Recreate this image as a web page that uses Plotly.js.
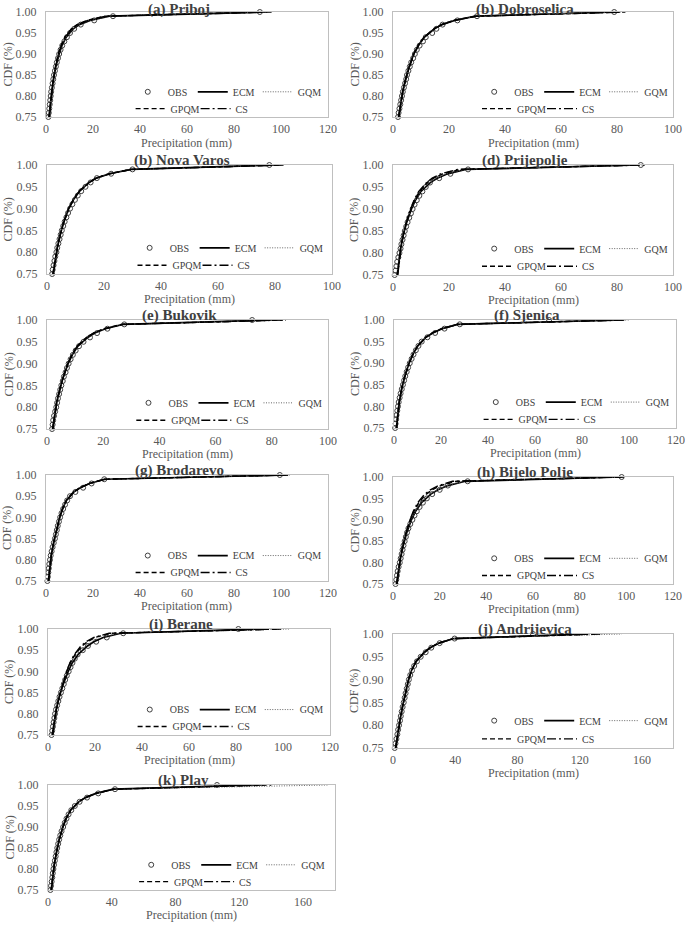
<!DOCTYPE html>
<html>
<head>
<meta charset="utf-8">
<script src="https://cdn.plot.ly/plotly-3.0.1.min.js"></script>
<style>
  html, body { margin: 0; padding: 0; background: #fff; }
  #chart { width: 685px; height: 927px; }
</style>
</head>
<body>
<div id="chart"></div>
<script>
// ============================================================
// CDF of daily precipitation: OBS vs bias-corrected models
// ============================================================

// CDF levels of the observed points and of the model curves
const cdfObs = [0.75, 0.76, 0.77, 0.78, 0.79, 0.80, 0.81, 0.82, 0.83, 0.84, 0.85, 0.86, 0.87,
  0.88, 0.89, 0.90, 0.91, 0.92, 0.93, 0.94, 0.95, 0.96, 0.97, 0.98, 0.99, 1.00];
const cdfModel = [0.75, 0.78, 0.81, 0.84, 0.87, 0.90, 0.92, 0.94, 0.96, 0.97, 0.98, 0.99, 1.00];

const seriesNames = ["OBS", "ECM", "GQM", "GPQM", "CS"];

// precipitation (mm) per station
const pribObs = [1.0, 1.2, 1.4, 1.6, 1.8, 2.0, 2.2, 2.5, 2.8, 3.1, 3.4, 3.8, 4.2, 4.6, 5.1, 5.6, 6.2, 6.9, 7.8, 8.9, 10.2, 12.0, 14.8, 20.5, 28.5, 91];
const pribEcm = [1.3, 1.8, 2.4, 3.2, 4.2, 5.6, 6.8, 8.6, 11.6, 14.2, 18.8, 27.0, 94];
const pribGqm = [1.2, 1.7, 2.3, 3.1, 4.1, 5.4, 6.7, 8.5, 11.5, 14.0, 18.5, 26.5, 95];
const pribGpqm = [1.3, 1.8, 2.4, 3.1, 4.0, 5.2, 6.4, 8.0, 10.8, 13.2, 17.5, 25.0, 93];
const pribCs = [1.4, 1.9, 2.5, 3.2, 4.1, 5.3, 6.5, 8.2, 11.0, 13.5, 17.8, 25.5, 96];

const dobrObs = [1.8, 2.0, 2.3, 2.6, 2.9, 3.2, 3.5, 3.9, 4.3, 4.7, 5.0, 5.5, 6.0, 6.5, 7.2, 7.8, 8.5, 9.5, 10.7, 11.7, 14.0, 15.5, 17.7, 23, 30, 79];
const dobrEcm = [2.0, 2.7, 3.4, 4.5, 5.8, 7.4, 9.0, 11.2, 14.8, 17.5, 22, 29.5, 80];
const dobrGqm = [1.9, 2.6, 3.4, 4.4, 5.7, 7.3, 8.9, 11.0, 14.6, 17.2, 21.5, 29, 81];
const dobrGpqm = [2.0, 2.7, 3.5, 4.5, 5.8, 7.4, 9.0, 11.1, 14.7, 17.3, 21.8, 29.5, 83];
const dobrCs = [2.1, 2.8, 3.5, 4.6, 5.9, 7.5, 9.1, 11.2, 14.8, 17.4, 22, 29.8, 82];

const novaObs = [1.8, 2.0, 2.3, 2.6, 2.9, 3.3, 3.6, 4.0, 4.4, 4.8, 5.2, 5.7, 6.2, 6.8, 7.4, 8.1, 8.9, 9.8, 10.8, 12.0, 13.5, 15.3, 17.5, 22.5, 30, 78];
const novaEcm = [2.1, 2.8, 3.6, 4.6, 5.9, 7.6, 9.2, 11.4, 14.8, 17.3, 22, 29.5, 80];
const novaGqm = [2.0, 2.7, 3.5, 4.5, 5.8, 7.5, 9.1, 11.2, 14.6, 17.0, 21.5, 29, 82];
const novaGpqm = [2.1, 2.8, 3.6, 4.6, 5.9, 7.6, 9.2, 11.3, 14.7, 17.2, 21.8, 29.5, 82];
const novaCs = [2.2, 2.9, 3.7, 4.7, 6.0, 7.7, 9.3, 11.4, 14.8, 17.3, 22, 29.8, 83];

const prijObs = [0.6, 0.9, 1.2, 1.5, 1.9, 2.3, 2.7, 3.0, 3.4, 3.8, 4.2, 4.7, 5.2, 5.8, 6.4, 7.0, 7.7, 8.5, 9.4, 10.5, 11.7, 13.2, 16.5, 20.5, 26.8, 88.5];
const prijEcm = [1.5, 2.0, 2.7, 3.6, 4.9, 6.6, 8.0, 10.0, 13.3, 15.8, 19.5, 26, 88];
const prijGqm = [1.4, 1.9, 2.6, 3.5, 4.8, 6.5, 7.9, 9.8, 13.0, 15.5, 19.0, 25.5, 89];
const prijGpqm = [1.6, 2.1, 2.7, 3.6, 4.8, 6.4, 7.7, 9.5, 12.3, 14.5, 17.8, 24, 87];
const prijCs = [1.7, 2.2, 2.8, 3.7, 4.8, 6.3, 7.5, 9.2, 12.0, 14.0, 17.0, 23, 90];

const bukoObs = [1.8, 2.0, 2.2, 2.5, 2.9, 3.3, 3.6, 3.9, 4.3, 4.7, 5.1, 5.6, 6.0, 6.6, 7.1, 7.7, 8.4, 9.2, 10.2, 11.4, 13.0, 15.3, 17.8, 21.5, 27.5, 73];
const bukoEcm = [2.0, 2.6, 3.4, 4.5, 5.8, 7.5, 9.0, 11.0, 14.5, 17.0, 20.8, 27, 80];
const bukoGqm = [1.9, 2.5, 3.3, 4.4, 5.7, 7.4, 8.9, 10.9, 14.3, 16.8, 20.5, 26.5, 82];
const bukoGpqm = [2.0, 2.6, 3.4, 4.5, 5.8, 7.4, 8.8, 10.7, 14.0, 16.5, 20.2, 26.5, 84];
const bukoCs = [2.1, 2.7, 3.5, 4.6, 5.9, 7.5, 8.9, 10.8, 14.2, 16.6, 20.5, 27, 85];

const sjenObs = [0.5, 0.7, 0.9, 1.1, 1.4, 1.7, 2.0, 2.4, 2.8, 3.3, 3.8, 4.3, 4.8, 5.4, 6.0, 6.7, 7.5, 8.3, 9.3, 10.4, 11.8, 14.2, 17.5, 21.5, 28, 66];
const sjenEcm = [1.0, 1.5, 2.2, 3.2, 4.6, 6.4, 8.0, 10.1, 13.6, 16.5, 20.5, 27, 98];
const sjenGqm = [0.9, 1.4, 2.1, 3.1, 4.5, 6.3, 7.9, 10.0, 13.4, 16.2, 20.2, 26.5, 100];
const sjenGpqm = [1.0, 1.5, 2.2, 3.2, 4.6, 6.4, 8.0, 10.0, 13.5, 16.3, 20.3, 27, 96];
const sjenCs = [1.1, 1.6, 2.3, 3.3, 4.7, 6.5, 8.1, 10.1, 13.6, 16.4, 20.5, 27.5, 99];

const brodObs = [0.6, 0.8, 1.0, 1.2, 1.4, 1.7, 2.0, 2.4, 2.8, 3.3, 3.8, 4.2, 4.6, 5.0, 5.5, 6.0, 6.6, 7.3, 8.1, 9.0, 10.2, 12.5, 15.8, 19.4, 24.8, 99.5];
const brodEcm = [1.0, 1.5, 2.2, 3.2, 4.4, 5.8, 7.0, 8.7, 11.8, 14.6, 18.5, 25, 103];
const brodGqm = [0.9, 1.4, 2.1, 3.1, 4.3, 5.7, 6.9, 8.6, 11.6, 14.3, 18.2, 24.5, 104];
const brodGpqm = [1.0, 1.5, 2.2, 3.2, 4.4, 5.8, 7.0, 8.6, 11.7, 14.4, 18.3, 24.8, 102];
const brodCs = [1.1, 1.6, 2.3, 3.3, 4.5, 5.9, 7.1, 8.8, 11.9, 14.7, 18.6, 25.2, 103];

const bijeObs = [1.1, 1.4, 1.7, 2.0, 2.4, 2.9, 3.3, 3.7, 4.1, 4.5, 5.0, 5.5, 6.0, 6.6, 7.4, 8.3, 9.2, 10.2, 11.4, 12.8, 14.5, 16.8, 20.0, 23.5, 32, 98];
const bijeEcm = [1.5, 2.2, 3.2, 4.4, 5.9, 7.9, 9.7, 12.2, 16.2, 19.3, 23.5, 31, 98];
const bijeGqm = [1.4, 2.1, 3.1, 4.3, 5.8, 7.8, 9.5, 12.0, 15.9, 19.0, 23.0, 30.5, 99];
const bijeGpqm = [1.6, 2.2, 3.1, 4.2, 5.6, 7.4, 8.9, 11.0, 14.3, 16.8, 20.5, 27, 97];
const bijeCs = [1.7, 2.3, 3.2, 4.3, 5.6, 7.3, 8.7, 10.6, 13.6, 16.0, 19.5, 25.5, 99];

const beraObs = [1.5, 1.8, 2.1, 2.4, 2.7, 3.0, 3.4, 3.9, 4.4, 4.9, 5.5, 6.1, 6.7, 7.3, 8.0, 8.8, 9.6, 10.4, 11.4, 12.6, 14.8, 17.0, 20.5, 25, 32, 81];
const beraEcm = [1.8, 2.6, 3.5, 4.8, 6.5, 8.6, 10.3, 12.8, 16.8, 19.5, 23.5, 31, 90];
const beraGqm = [1.7, 2.5, 3.4, 4.7, 6.3, 8.3, 9.9, 12.2, 15.8, 18.5, 22.5, 30, 103];
const beraGpqm = [1.9, 2.6, 3.5, 4.7, 6.2, 8.0, 9.5, 11.5, 14.5, 16.8, 20.0, 27, 98];
const beraCs = [2.0, 2.7, 3.6, 4.8, 6.2, 7.9, 9.3, 11.2, 14.0, 16.2, 19.5, 26, 100];

const andrObs = [1.1, 1.6, 2.2, 2.8, 3.3, 3.9, 4.5, 5.0, 5.6, 6.2, 6.9, 7.5, 8.1, 8.8, 9.5, 10.2, 11.1, 12.2, 13.6, 15.4, 17.8, 21.0, 24.6, 30, 39.6, 90];
const andrEcm = [1.6, 2.9, 4.4, 6.0, 7.9, 10.0, 11.9, 14.9, 20.3, 24.0, 29.5, 39, 125];
const andrGqm = [1.5, 2.8, 4.3, 5.9, 7.8, 9.9, 11.8, 14.7, 20.0, 23.7, 29, 38.5, 147];
const andrGpqm = [1.7, 3.0, 4.5, 6.1, 7.9, 10.0, 11.9, 14.8, 20.1, 23.8, 29.2, 38.8, 130];
const andrCs = [1.8, 3.1, 4.6, 6.2, 8.0, 10.1, 12.0, 14.9, 20.2, 23.9, 29.4, 39.2, 135];

const plavObs = [1.5, 1.9, 2.3, 2.7, 3.0, 3.4, 3.8, 4.3, 4.8, 5.3, 5.8, 6.4, 7.0, 7.7, 8.5, 9.5, 10.5, 11.6, 12.9, 14.6, 16.8, 19.8, 24.5, 31.5, 42, 106];
const plavEcm = [2.0, 2.9, 3.9, 5.3, 7.0, 9.3, 11.3, 14.2, 19.3, 23.5, 30, 41, 130];
const plavGqm = [1.9, 2.8, 3.8, 5.2, 6.9, 9.2, 11.2, 14.0, 19.0, 23.2, 29.5, 40.5, 176];
const plavGpqm = [2.0, 2.9, 3.9, 5.3, 7.0, 9.3, 11.3, 14.1, 19.2, 23.4, 29.8, 41, 140];
const plavCs = [2.1, 3.0, 4.0, 5.4, 7.1, 9.4, 11.4, 14.3, 19.4, 23.6, 30.2, 41.5, 134];

// panel layout: plot box in page pixels [left, right, top, bottom]
const panels = [
  { title: "(a) Priboj", d: [pribObs, pribEcm, pribGqm, pribGpqm, pribCs], box: [46, 328, 12, 117], xmax: 120, dtick: 20, xt: 26 },
  { title: "(b) Dobroselica", d: [dobrObs, dobrEcm, dobrGqm, dobrGpqm, dobrCs], box: [393, 673, 12, 117], xmax: 100, dtick: 20, xt: 26 },
  { title: "(b) Nova Varos", d: [novaObs, novaEcm, novaGqm, novaGpqm, novaCs], box: [47, 332, 165, 274], xmax: 100, dtick: 20, xt: 25 },
  { title: "(d) Prijepolje", d: [prijObs, prijEcm, prijGqm, prijGpqm, prijCs], box: [393, 673, 165, 275], xmax: 100, dtick: 20, xt: 25 },
  { title: "(e) Bukovik", d: [bukoObs, bukoEcm, bukoGqm, bukoGpqm, bukoCs], box: [47, 328, 320, 429], xmax: 100, dtick: 20, xt: 25 },
  { title: "(f) Sjenica", d: [sjenObs, sjenEcm, sjenGqm, sjenGpqm, sjenCs], box: [394, 676, 320, 428], xmax: 120, dtick: 20, xt: 25 },
  { title: "(g) Brodarevo", d: [brodObs, brodEcm, brodGqm, brodGpqm, brodCs], box: [46, 328, 475, 581], xmax: 120, dtick: 20, xt: 25 },
  { title: "(h) Bijelo Polje", d: [bijeObs, bijeEcm, bijeGqm, bijeGpqm, bijeCs], box: [393, 673, 477, 584], xmax: 120, dtick: 20, xt: 25 },
  { title: "(i) Berane", d: [beraObs, beraEcm, beraGqm, beraGpqm, beraCs], box: [48, 330, 629, 735], xmax: 120, dtick: 20, xt: 25 },
  { title: "(j) Andrijevica", d: [andrObs, andrEcm, andrGqm, andrGpqm, andrCs], box: [393, 673, 634, 748], xmax: 180, dtick: 40, xt: 25 },
  { title: "(k) Play", d: [plavObs, plavEcm, plavGqm, plavGpqm, plavCs], box: [48, 335, 785, 890], xmax: 180, dtick: 40, xt: 25 },
];

const W = 685, H = 927;
const FONT = "'Times New Roman', 'Liberation Serif', serif";
const GRAY = "#595959";

const styles = [
  { mode: "markers", marker: { symbol: "circle-open", size: 5, color: "#404040", line: { width: 1 } } },
  { mode: "lines", line: { color: "#000", width: 1.7 } },
  { mode: "lines", line: { color: "#666", width: 1, dash: "1px,1.5px" } },
  { mode: "lines", line: { color: "#000", width: 1.4, dash: "5px,3px" } },
  { mode: "lines", line: { color: "#000", width: 1.4, dash: "9px,3px,2px,3px" } },
];

function legendId(n) { return n === 1 ? "legend" : "legend" + n; }
function px2x(p) { return p / W; }
function px2y(p) { return 1 - p / H; }

const traces = [];
const layout = {
  width: W, height: H,
  margin: { l: 0, r: 0, t: 0, b: 0 },
  paper_bgcolor: "#fff", plot_bgcolor: "#fff",
  font: { family: FONT, color: GRAY, size: 12 },
  annotations: [],
};

panels.forEach((p, i) => {
  const s = i === 0 ? "" : String(i + 1);
  const [x0, x1, y0, y1] = p.box;
  const lg1 = legendId(2 * i + 1), lg2 = legendId(2 * i + 2);

  p.d.forEach((xs, k) => {
    traces.push(Object.assign({
      type: "scatter",
      name: seriesNames[k],
      x: xs,
      y: k === 0 ? cdfObs : cdfModel,
      xaxis: "x" + s, yaxis: "y" + s,
      legend: k < 3 ? lg1 : lg2,
      cliponaxis: false,
      hoverinfo: "skip",
    }, styles[k]));
  });

  const axCommon = {
    showline: true, mirror: true, linecolor: "#bfbfbf", linewidth: 1,
    showgrid: false, zeroline: false, ticks: "",
    tickfont: { family: FONT, size: 12, color: GRAY },
    fixedrange: true,
  };
  layout["xaxis" + s] = Object.assign({}, axCommon, {
    domain: [px2x(x0), px2x(x1)], anchor: "y" + s,
    range: [0, p.xmax], tick0: 0, dtick: p.dtick,
    ticklabelstandoff: 1,
  });
  layout["yaxis" + s] = Object.assign({}, axCommon, {
    domain: [px2y(y1), px2y(y0)], anchor: "x" + s,
    range: [0.75, 1.0], tick0: 0.75, dtick: 0.05, tickformat: ".2f",
    ticklabelstandoff: 6,
  });

  const legCommon = {
    orientation: "h", xanchor: "left", yanchor: "middle",
    bgcolor: "rgba(0,0,0,0)", borderwidth: 0,
    font: { family: FONT, size: 10, color: "#404040" },
    entrywidth: 20, itemwidth: 30, itemclick: false, itemdoubleclick: false,
  };
  layout[lg1] = Object.assign({}, legCommon, {
    x: px2x(x0 + 0.29 * (x1 - x0)), y: px2y(y0 + 0.76 * (y1 - y0)),
  });
  layout[lg2] = Object.assign({}, legCommon, {
    x: px2x(x0 + 0.30 * (x1 - x0)), y: px2y(y0 + 0.92 * (y1 - y0)),
  });

  const cx = (x0 + x1) / 2;
  const topRow = y0 < 20;
  layout.annotations.push({
    text: "<b>" + p.title + "</b>", xref: "paper", yref: "paper",
    x: px2x(cx - 8), y: topRow ? 1 : px2y(y0 - 5),
    xanchor: "center", yanchor: topRow ? "top" : "middle",
    showarrow: false, borderpad: 0,
    font: { family: FONT, size: 15, color: "#404040" },
  });
  layout.annotations.push({
    text: "Precipitation (mm)", xref: "paper", yref: "paper",
    x: px2x(cx), y: px2y(y1 + p.xt), xanchor: "center", yanchor: "middle",
    showarrow: false, font: { family: FONT, size: 12, color: GRAY },
  });
  layout.annotations.push({
    text: "CDF (%)", xref: "paper", yref: "paper", textangle: -90,
    x: px2x(x0 - 39), y: px2y((y0 + y1) / 2), xanchor: "center", yanchor: "middle",
    showarrow: false, font: { family: FONT, size: 12, color: GRAY },
  });
});

Plotly.newPlot("chart", traces, layout, { displayModeBar: false, staticPlot: true });
</script>
</body>
</html>
